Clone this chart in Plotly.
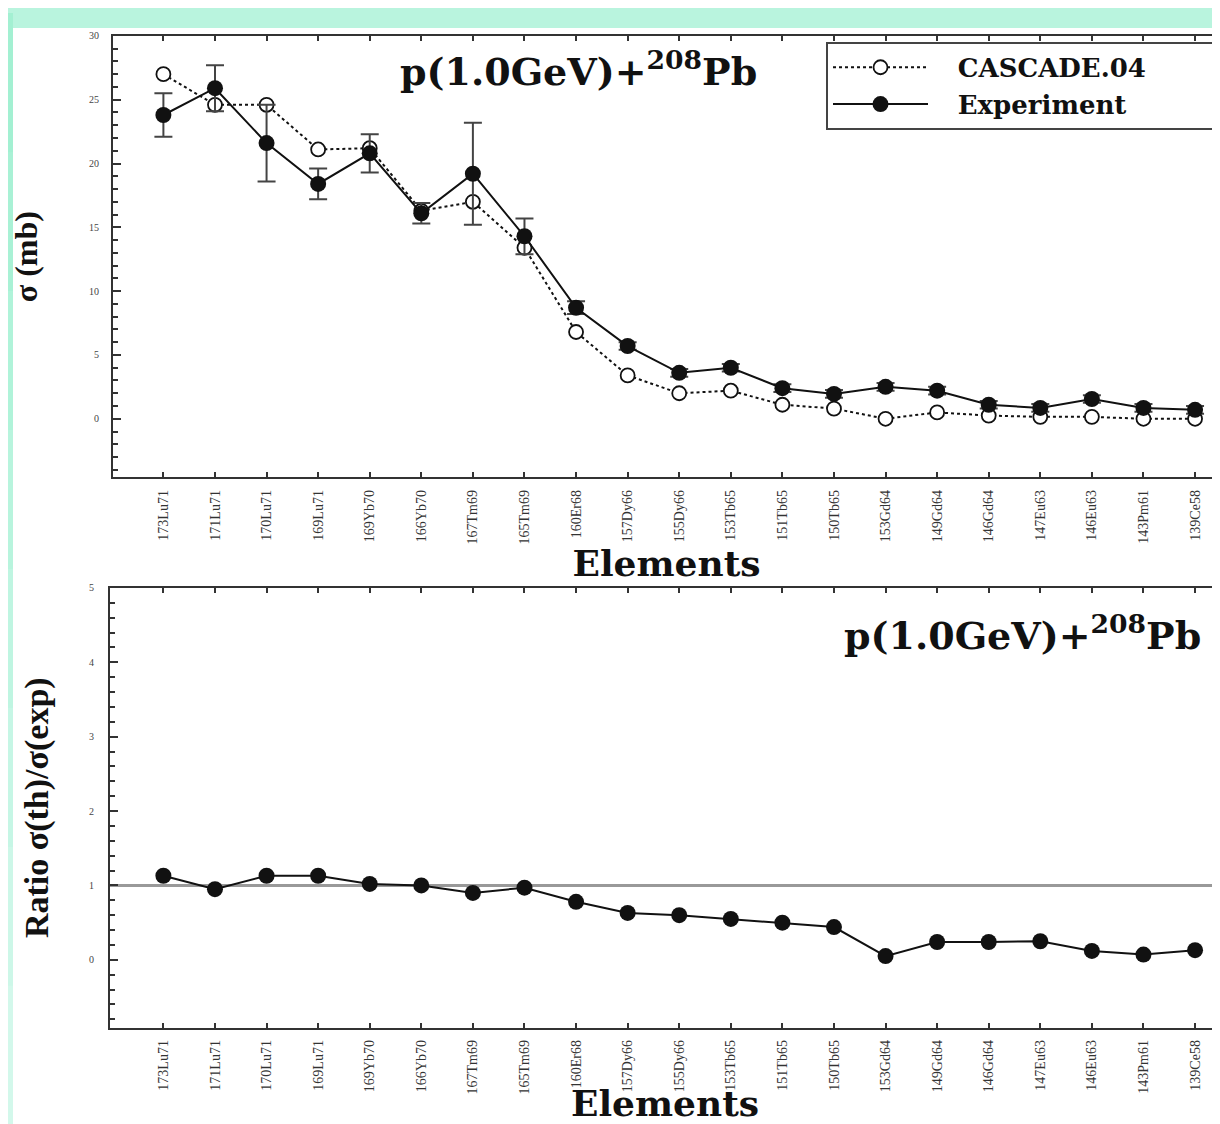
import plotly.graph_objects as go

# ---------------- data ----------------
elements = ["173Lu71", "171Lu71", "170Lu71", "169Lu71", "169Yb70", "166Yb70", "167Tm69",
            "165Tm69", "160Er68", "157Dy66", "155Dy66", "153Tb65", "151Tb65", "150Tb65",
            "153Gd64", "149Gd64", "146Gd64", "147Eu63", "146Eu63", "143Pm61", "139Ce58"]

cascade = [27.0, 24.6, 24.6, 21.1, 21.2, 16.3, 17.0, 13.4, 6.8, 3.4, 2.0, 2.2, 1.1, 0.8,
           0.0, 0.5, 0.25, 0.15, 0.15, 0.0, 0.0]

experiment = [23.8, 25.9, 21.6, 18.4, 20.8, 16.1, 19.2, 14.3, 8.7, 5.7, 3.6, 4.0, 2.4, 1.95,
              2.5, 2.2, 1.1, 0.85, 1.55, 0.85, 0.7]

exp_error = [1.7, 1.8, 3.0, 1.2, 1.5, 0.8, 4.0, 1.4, 0.5, 0.3, 0.3, 0.3, 0.3, 0.3,
             0.3, 0.3, 0.3, 0.3, 0.3, 0.3, 0.3]

ratio = [1.13, 0.95, 1.13, 1.13, 1.02, 1.0, 0.9, 0.97, 0.78, 0.63, 0.6, 0.55, 0.5, 0.44,
         0.05, 0.24, 0.24, 0.25, 0.12, 0.07, 0.13]

ratio_reference = 1.0
title_text = "p(1.0GeV)+<sup>208</sup>Pb"

# ---------------- figure ----------------
# page has an 8px body margin, so figure coordinates = screen coordinates - 8
OFF = 8
W, H = 1212, 1116
def px_x(p):
    return (p - OFF) / W
def px_y(p):
    return 1 - (p - OFF) / H

idx = list(range(len(elements)))
BLACK = "#111111"
AX = "#333333"
PAD = "\u00a0"

fig = go.Figure()

fig.add_trace(go.Scatter(
    x=idx, y=cascade, name=PAD * 3 + "<b>CASCADE.04</b>" + PAD * 8, mode="lines+markers",
    line=dict(color=BLACK, width=2, dash="dot"),
    marker=dict(symbol="circle", size=14, color="white", line=dict(color=BLACK, width=1.8)),
    xaxis="x", yaxis="y"))

fig.add_trace(go.Scatter(
    x=idx, y=experiment, name=PAD * 3 + "<b>Experiment</b>", mode="lines+markers",
    line=dict(color=BLACK, width=2),
    marker=dict(symbol="circle", size=16, color=BLACK),
    error_y=dict(type="data", array=exp_error, visible=True, color="#444444",
                 thickness=2, width=9),
    xaxis="x", yaxis="y"))

fig.add_trace(go.Scatter(
    x=idx, y=ratio, name="ratio", mode="lines+markers", showlegend=False,
    line=dict(color=BLACK, width=2),
    marker=dict(symbol="circle", size=16, color=BLACK),
    xaxis="x2", yaxis="y2"))

serif = "Liberation Serif"
wide = "DejaVu Serif"

xcommon = dict(
    tickmode="array", tickvals=idx, ticktext=elements, tickangle=-90,
    tickfont=dict(family=serif, size=14, color="#333333"),
    ticks="inside", ticklen=5, tickwidth=2, tickcolor=AX,
    showline=True, linecolor=AX, linewidth=2, mirror="ticks",
    showgrid=False, zeroline=False, ticklabelstandoff=5,
)

fig.update_layout(
    width=W, height=H,
    margin=dict(l=0, r=0, t=0, b=0),
    paper_bgcolor="#b9f4de", plot_bgcolor="white",
    showlegend=True,
    xaxis=dict(domain=[px_x(113), 1.0], range=[-0.977, 20.64 - OFF / 51.2], anchor="y", **xcommon,
               title=dict(text="<b>Elements</b>", font=dict(family=wide, size=36, color=BLACK),
                          standoff=0)),
    yaxis=dict(domain=[px_y(474), px_y(30)], range=[-4.6, 30], anchor="x",
               tickmode="linear", tick0=0, dtick=5,
               tickfont=dict(family=serif, size=10, color="#444444"),
               ticks="inside", ticklen=8, tickwidth=2, tickcolor=AX,
               minor=dict(dtick=1, ticks="inside", ticklen=5, tickwidth=1.5, tickcolor=AX),
               showline=True, linecolor=AX, linewidth=2,
               showgrid=False, zeroline=False, ticklabelstandoff=10,
               title=dict(text="<b>σ (mb)</b>", font=dict(family=serif, size=32, color=BLACK),
                          standoff=44)),
    xaxis2=dict(domain=[px_x(110), 1.0], range=[-1.035, 20.64 - OFF / 51.2], anchor="y2", **xcommon,
                title=dict(text="<b>Elements</b>", font=dict(family=wide, size=36, color=BLACK),
                           standoff=0)),
    yaxis2=dict(domain=[px_y(1027), px_y(585)], range=[-0.91, 5], anchor="x2",
                tickmode="linear", tick0=0, dtick=1,
                tickfont=dict(family=serif, size=10, color="#444444"),
                ticks="inside", ticklen=8, tickwidth=2, tickcolor=AX,
                minor=dict(dtick=0.2, ticks="inside", ticklen=5, tickwidth=1.5, tickcolor=AX),
                showline=True, linecolor=AX, linewidth=2,
                showgrid=False, zeroline=False, ticklabelstandoff=12,
                title=dict(text="<b>Ratio σ(th)/σ(exp)</b>",
                           font=dict(family=serif, size=34, color=BLACK), standoff=30)),
    legend=dict(x=px_x(826), y=px_y(36), xanchor="left", yanchor="top",
                bgcolor="white", bordercolor="#444444", borderwidth=2,
                font=dict(family=wide, size=26, color=BLACK),
                itemwidth=95, tracegroupgap=0),
)

# background: white page with a mint strip on the left and top
shapes = []
shapes.append(dict(type="rect", xref="paper", yref="paper", x0=px_x(13), x1=1.02,
                   y0=-0.02, y1=px_y(22), fillcolor="white", line=dict(width=0), layer="below"))
strip_colors = ["#a3f0d2", "#a9f1d5", "#b0f3d9", "#b8f4dd", "#bff5e1", "#c6f6e5", "#cdf7e8", "#d3f8eb"]
n = len(strip_colors)
for i, c in enumerate(strip_colors):
    shapes.append(dict(type="rect", xref="paper", yref="paper", x0=-0.01, x1=px_x(13),
                       y0=1 - (i + 1) / n, y1=1 - i / n + (0.001 if i == 0 else 0),
                       fillcolor=c, line=dict(width=0), layer="below"))
shapes.append(dict(type="line", xref="x2 domain", yref="y2", x0=0, x1=1,
                   y0=ratio_reference, y1=ratio_reference,
                   line=dict(color="#999999", width=3), layer="below"))
fig.update_layout(shapes=shapes)

fig.add_annotation(text="<b>" + title_text + "</b>", xref="paper", yref="paper",
                   x=px_x(578), y=px_y(63), xanchor="center", yanchor="middle", showarrow=False,
                   font=dict(family=wide, size=38, color=BLACK))
fig.add_annotation(text="<b>" + title_text + "</b>", xref="paper", yref="paper",
                   x=px_x(1022), y=px_y(630), xanchor="center", yanchor="middle", showarrow=False,
                   font=dict(family=wide, size=38, color=BLACK))

fig.write_html("out.html")
